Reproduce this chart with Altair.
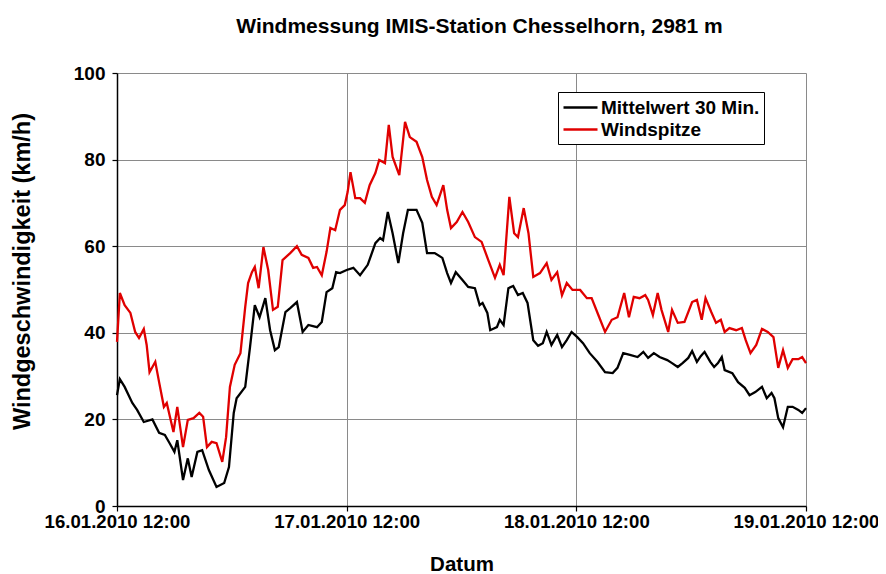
import altair as alt
import pandas as pd

# --- data (hours after 16.01.2010 12:00, km/h) ---
MEAN_H = [0.0, 0.3, 0.8, 1.6, 2.1, 2.8, 3.7, 4.4, 5.0, 5.5, 6.0, 6.3, 6.9, 7.4, 7.8, 8.4, 8.9, 9.6,
          10.4, 11.2, 11.7, 12.2, 12.5, 13.4, 13.9, 14.4, 14.9, 15.5, 16.0, 16.5, 16.9, 17.6, 18.1,
          18.8, 19.4, 20.0, 20.9, 21.4, 21.9, 22.5, 22.9, 23.3, 24.0, 24.7, 25.4, 26.2, 27.0, 27.5,
          27.8, 28.3, 28.8, 29.4, 29.9, 30.4, 31.3, 31.9, 32.4, 33.2, 34.0, 34.5, 34.9, 35.4, 36.1,
          36.7, 37.4, 37.9, 38.2, 38.7, 39.0, 39.7, 40.0, 40.4, 40.9, 41.4, 41.9, 42.4, 42.9, 43.5,
          44.0, 44.5, 44.9, 45.4, 46.0, 46.5, 47.0, 47.5, 48.1, 48.7, 49.4, 50.2, 51.0, 51.8, 52.3,
          52.9, 53.6, 54.4, 55.0, 55.5, 56.1, 56.7, 57.5, 58.0, 58.6, 59.1, 59.7, 60.1, 60.6, 61.0,
          61.4, 62.0, 62.4, 62.8, 63.2, 63.5, 64.3, 64.9, 65.6, 66.1, 66.7, 67.4, 67.9, 68.4, 68.7,
          69.1, 69.6, 70.1, 70.6, 71.2, 71.6, 72.0]
MEAN_V = [25.6, 29.3, 27.5, 23.8, 22.2, 19.4, 20.0, 16.9, 16.4, 14.5, 12.5, 15.2, 6.0, 11.0, 6.7, 12.5,
          12.9, 8.3, 4.4, 5.3, 9.0, 21.5, 24.9, 27.5, 36.7, 46.4, 43.6, 48.0, 40.6, 36.0, 36.7, 44.8,
          45.7, 47.1, 40.2, 41.8, 41.3, 42.5, 49.4, 50.3, 54.0, 53.8, 54.5, 55.0, 53.3, 55.7, 60.7,
          61.9, 61.4, 67.9, 63.0, 56.1, 63.0, 68.4, 68.4, 65.4, 58.4, 58.4, 57.3, 53.8, 51.5, 54.0,
          52.2, 50.6, 50.3, 46.4, 46.9, 44.6, 40.6, 41.3, 43.0, 41.8, 50.3, 50.8, 48.7, 49.2, 46.9,
          38.3, 37.0, 37.6, 40.2, 37.2, 39.5, 36.7, 38.3, 40.2, 39.0, 37.6, 35.3, 33.3, 30.9, 30.7,
          31.9, 35.3, 34.9, 34.4, 35.6, 34.2, 35.3, 34.4, 33.7, 33.0, 32.1, 33.0, 34.2, 35.8, 33.3,
          34.6, 35.6, 33.3, 32.1, 33.0, 34.4, 31.4, 30.7, 28.6, 27.3, 25.6, 26.3, 27.5, 24.9, 26.1,
          24.9, 20.3, 18.2, 22.9, 22.9, 22.2, 21.5, 22.6]

PEAK_H = [0.0, 0.3, 0.8, 1.4, 1.9, 2.3, 2.8, 3.1, 3.4, 4.0, 4.4, 4.9, 5.2, 5.9, 6.3, 6.9, 7.4, 8.0,
          8.6, 9.0, 9.4, 9.9, 10.4, 11.0, 11.4, 11.8, 12.3, 12.9, 13.4, 13.7, 14.1, 14.4, 14.8, 15.3,
          15.8, 16.3, 16.8, 17.3, 18.1, 18.8, 19.3, 20.0, 20.5, 20.9, 21.4, 21.9, 22.3, 22.8, 23.3,
          23.8, 24.1, 24.4, 24.9, 25.4, 25.9, 26.4, 27.0, 27.4, 28.0, 28.4, 28.8, 29.5, 30.1, 30.6,
          31.3, 31.9, 32.4, 32.9, 33.4, 34.1, 34.5, 34.9, 35.5, 36.1, 36.7, 37.4, 38.1, 38.8, 39.5,
          40.0, 40.4, 41.0, 41.5, 41.9, 42.5, 43.0, 43.5, 44.2, 44.9, 45.4, 46.0, 46.5, 47.0, 47.6,
          48.4, 49.1, 49.6, 50.3, 51.0, 51.7, 52.3, 53.0, 53.5, 54.0, 54.6, 55.2, 55.5, 56.0, 56.5,
          56.9, 57.6, 58.0, 58.6, 59.3, 60.1, 60.6, 61.1, 61.5, 62.1, 62.6, 63.1, 63.5, 64.0, 64.7,
          65.3, 65.7, 66.2, 66.8, 67.4, 68.0, 68.6, 69.1, 69.6, 70.1, 70.6, 71.2, 71.6, 72.0]
PEAK_V = [37.9, 49.2, 46.4, 44.6, 40.2, 38.8, 40.9, 37.2, 30.9, 33.3, 28.6, 22.9, 23.8, 17.1, 22.9,
          13.6, 19.9, 20.3, 21.5, 20.6, 13.6, 14.8, 14.5, 10.2, 15.9, 27.5, 32.6, 35.3, 46.0, 51.5,
          54.0, 55.2, 50.3, 59.8, 54.5, 45.3, 46.0, 56.8, 58.4, 60.0, 58.0, 57.3, 55.0, 55.2, 53.3,
          58.7, 64.2, 63.7, 68.4, 69.5, 72.5, 77.1, 71.1, 71.1, 70.0, 74.1, 76.9, 79.9, 79.2, 88.0,
          80.6, 76.4, 88.7, 85.2, 84.1, 80.6, 75.3, 71.4, 69.5, 74.1, 68.4, 64.2, 65.6, 67.9, 65.6,
          62.1, 61.0, 56.8, 52.7, 55.7, 53.3, 71.4, 63.0, 62.1, 68.8, 63.0, 52.9, 53.8, 56.1, 52.2,
          54.0, 48.7, 51.5, 49.9, 49.9, 48.0, 48.0, 44.1, 40.2, 43.0, 43.6, 49.2, 43.6, 48.3, 48.0,
          48.7, 47.6, 44.1, 49.2, 45.3, 40.2, 45.3, 42.3, 42.5, 47.1, 47.6, 43.0, 48.0, 44.8, 42.3,
          43.0, 40.2, 41.1, 40.6, 41.1, 38.3, 35.3, 37.2, 40.9, 40.2, 39.0, 31.9, 36.0, 31.9, 33.9,
          33.9, 34.4, 33.0]

SERIES = ["Mittelwert 30 Min.", "Windspitze"]
COLORS = ["#000000", "#e00000"]
TICK_DAYS = [16, 17, 18, 19]
Y_TICKS = [0, 20, 40, 60, 80, 100]

base = pd.Timestamp("2010-01-16 12:00")
rows = []
for name, hs, vs in [(SERIES[0], MEAN_H, MEAN_V), (SERIES[1], PEAK_H, PEAK_V)]:
    for i, (h, v) in enumerate(zip(hs, vs)):
        t = base + pd.Timedelta(minutes=round(h * 60))
        rows.append({"zeit": t.strftime("%Y-%m-%dT%H:%M:%S"), "wert": v, "serie": name, "i": i})
df = pd.DataFrame(rows)

FONT = "Liberation Sans"

x_ticks = [alt.DateTime(year=2010, month=1, date=d, hours=12) for d in TICK_DAYS]

chart = alt.Chart(df).mark_line(strokeWidth=2.3).encode(
    x=alt.X("zeit:T",
            scale=alt.Scale(domain=[x_ticks[0], x_ticks[-1]], nice=False),
            axis=alt.Axis(values=x_ticks, format="%d.%m.%Y %H:%M", title="Datum",
                          labelFlush=False, labelOverlap=False, labelBound=False,
                          labelFontSize=18.6,
                          tickSize=5, labelPadding=1, titleY=58, titleBaseline="middle",
                          titleFontSize=20.5)),
    y=alt.Y("wert:Q",
            scale=alt.Scale(domain=[0, 100], nice=False),
            axis=alt.Axis(values=Y_TICKS, title="Windgeschwindigkeit (km/h)",
                          tickSize=5, labelPadding=7,
                          titleX=-95, titleY=198, titleAngle=270, titleFontSize=23.5,
                          titleAlign="center", titleBaseline="middle")),
    color=alt.Color("serie:N",
                    scale=alt.Scale(domain=SERIES, range=COLORS),
                    legend=alt.Legend(title=None, orient="none", legendX=441, legendY=19,
                                      symbolType="M-1,0H2.4", symbolSize=400,
                                      symbolStrokeWidth=2.5, labelFontSize=19,
                                      labelFont=FONT, labelFontWeight="bold",
                                      labelColor="black", labelLimit=400, labelOffset=16,
                                      padding=4, rowPadding=0,
                                      strokeColor="black", fillColor="white")),
    order="i:Q",
).properties(
    width=689,
    height=433,
    autosize=alt.AutoSizeParams(type="none"),
    padding={"left": 109, "top": 65, "right": 72, "bottom": 69},
    title=alt.TitleParams("Windmessung IMIS-Station Chesselhorn, 2981 m",
                          font=FONT, fontSize=21, fontWeight="bold", color="black",
                          dx=18, offset=16, baseline="middle"),
).configure_view(stroke=None).configure_axis(
    labelFont=FONT, labelFontSize=19, labelFontWeight="bold", labelColor="black",
    titleFont=FONT, titleFontSize=20, titleFontWeight="bold", titleColor="black",
    domainColor="black", domainWidth=1.5, tickColor="black", tickWidth=1.2,
    gridColor="#8a8a8a", gridWidth=1, grid=True,
)

chart.save("out.html", embed_options={"renderer": "svg", "actions": False})
